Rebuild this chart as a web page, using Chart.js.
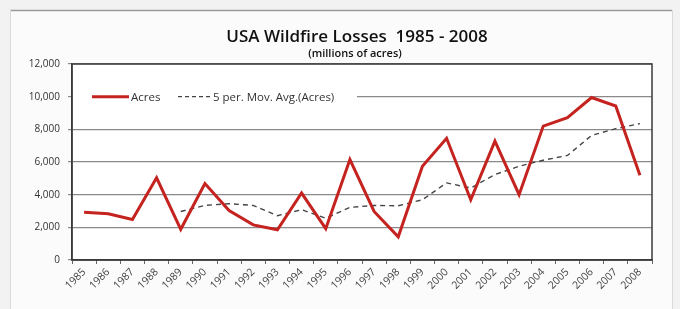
<!DOCTYPE html>
<html>
<head>
<meta charset="utf-8">
<script src="https://cdn.jsdelivr.net/npm/chart.js@4.4.0/dist/chart.umd.min.js"></script>
<style>
    html, body { margin: 0; padding: 0; background: #f2f2f2; }
    #wrap { width: 680px; height: 309px; position: relative; }
</style>
</head>
<body>
<div id="wrap"><canvas id="chart" width="680" height="309"></canvas></div>
<script>
// data
const years = ['1985', '1986', '1987', '1988', '1989', '1990', '1991', '1992', '1993', '1994', '1995', '1996',
    '1997', '1998', '1999', '2000', '2001', '2002', '2003', '2004', '2005', '2006', '2007', '2008'];
const acres = [2930, 2830, 2480, 5030, 1880, 4680, 3030, 2150, 1850, 4100, 1920, 6150,
    2970, 1420, 5740, 7450, 3690, 7280, 4000, 8200, 8720, 9950, 9430, 5190];
const movAvg = [null, null, null, null, 2970, 3340, 3450, 3340, 2710, 3080, 2560, 3220,
    3340, 3320, 3690, 4720, 4410, 5230, 5740, 6110, 6400, 7630, 8040, 8350];
const yTicks = [0, 2000, 4000, 6000, 8000, 10000, 12000];

const titleText = 'USA Wildfire Losses  1985 - 2008';
const subtitleText = '(millions of acres)';

// frame, plot border, title and inside legend
const decorPlugin = {
    id: 'decor',
    beforeDraw(chart) {
        const ctx = chart.ctx;
        ctx.save();
        ctx.fillStyle = '#fbfbfb';
        ctx.fillRect(10, 10, 662, 299);
        ctx.strokeStyle = '#9a9a9a';
        ctx.lineWidth = 1.5;
        ctx.beginPath();
        ctx.moveTo(10, 10.5);
        ctx.lineTo(672, 10.5);
        ctx.stroke();
        ctx.strokeStyle = '#dadada';
        ctx.lineWidth = 1;
        ctx.beginPath();
        ctx.moveTo(10.5, 10);
        ctx.lineTo(10.5, 309);
        ctx.moveTo(672.5, 10);
        ctx.lineTo(672.5, 309);
        ctx.stroke();
        ctx.fillStyle = '#ffffff';
        const a = chart.chartArea;
        ctx.fillRect(a.left, a.top, a.right - a.left, a.bottom - a.top);
        ctx.restore();
    },
    afterDatasetsDraw(chart) {
        const ctx = chart.ctx;
        const a = chart.chartArea;
        const y = chart.scales.y.getPixelForValue(10000);
        ctx.save();
        // legend box hides the gridline
        ctx.fillStyle = '#ffffff';
        ctx.fillRect(a.left + 1, y - 7, 284, 14);
        ctx.font = '11.5px "Open Sans"';
        ctx.textBaseline = 'middle';
        ctx.lineWidth = 3;
        ctx.strokeStyle = '#c4231f';
        ctx.beginPath();
        ctx.moveTo(92, y);
        ctx.lineTo(129, y);
        ctx.stroke();
        ctx.fillStyle = '#333';
        ctx.fillText('Acres', 131, y + 1);
        ctx.lineWidth = 1.3;
        ctx.strokeStyle = '#444';
        ctx.setLineDash([4, 3]);
        ctx.beginPath();
        ctx.moveTo(178, y);
        ctx.lineTo(210, y);
        ctx.stroke();
        ctx.setLineDash([]);
        ctx.fillText('5 per. Mov. Avg.(Acres)', 213, y + 1);
        // plot border
        ctx.strokeStyle = '#3a3a3a';
        ctx.lineWidth = 1.5;
        ctx.strokeRect(a.left, a.top, a.right - a.left, a.bottom - a.top);
        // title
        ctx.fillStyle = '#111';
        ctx.textAlign = 'center';
        ctx.textBaseline = 'alphabetic';
        ctx.font = '600 17px "Open Sans"';
        ctx.fillText(titleText, 357, 42);
        ctx.font = '600 11px "Open Sans"';
        ctx.fillText(subtitleText, 355, 57);
        ctx.restore();
    }
};

new Chart(document.getElementById('chart'), {
    type: 'line',
    data: {
        labels: years,
        datasets: [
            {
                label: 'Acres',
                data: acres,
                borderColor: '#c4231f',
                borderWidth: 3,
                pointRadius: 0,
                tension: 0,
                order: 1
            },
            {
                label: '5 per. Mov. Avg.(Acres)',
                data: movAvg,
                borderColor: '#444444',
                borderWidth: 1.4,
                borderDash: [5, 4],
                pointRadius: 0,
                tension: 0,
                spanGaps: false,
                order: 2
            }
        ]
    },
    options: {
        responsive: false,
        animation: false,
        devicePixelRatio: 1,
        layout: { padding: { left: 10, right: 28, top: 64, bottom: 0 } },
        plugins: {
            legend: { display: false },
            title: { display: false },
            tooltip: { enabled: false }
        },
        scales: {
            x: {
                offset: true,
                afterFit: (scale) => { scale.height = 49; },
                grid: {
                    offset: true,
                    drawOnChartArea: false,
                    drawTicks: true,
                    tickLength: 4,
                    color: '#666'
                },
                border: { display: true, color: '#3a3a3a', width: 1.5 },
                ticks: {
                    minRotation: 45,
                    maxRotation: 45,
                    autoSkip: false,
                    color: '#444',
                    font: { family: 'Open Sans', size: 10.5 },
                    padding: 2
                }
            },
            y: {
                min: 0,
                max: 12000,
                afterFit: (scale) => { scale.width = 62; },
                afterBuildTicks: (scale) => { scale.ticks = yTicks.map(v => ({ value: v })); },
                grid: {
                    color: '#8a8a8a',
                    lineWidth: 1.2,
                    drawTicks: true,
                    tickLength: 4
                },
                border: { display: true, color: '#3a3a3a', width: 1.5 },
                ticks: {
                    color: '#333',
                    font: { family: 'Open Sans', size: 10 },
                    padding: 8,
                    callback: (v) => v.toLocaleString('en-US')
                }
            }
        }
    },
    plugins: [decorPlugin]
});
</script>
</body>
</html>
